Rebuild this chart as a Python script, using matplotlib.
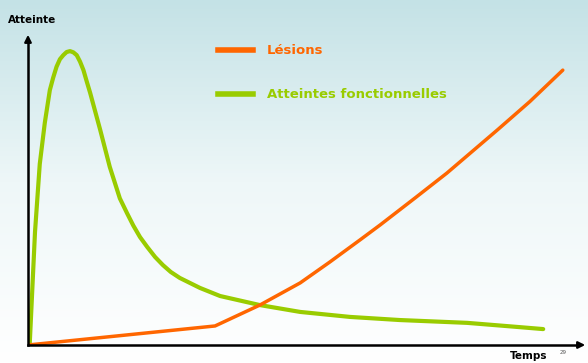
import numpy as np
import matplotlib.pyplot as plt
from matplotlib.colors import LinearSegmentedColormap

# données (temps / atteinte, unités arbitraires 0-100)
temps_fonct = [0.3, 1.25, 2.1, 3.0, 3.9, 4.5, 5.1, 5.7, 6.3, 6.9, 7.5, 8.1, 8.7,
               9.3, 9.9, 10.5, 11.1, 12.9, 14.6, 16.4, 17.7, 18.8, 20.0, 21.3,
               22.7, 24.1, 25.5, 27.1, 28.9, 30.7, 32.5, 34.3, 41.4, 48.6, 57.5,
               66.4, 78.4, 87.3, 92.0]
atteinte_fonct = [0, 36.2, 58.0, 71.2, 81.7, 85.7, 89.2, 91.6, 92.9, 93.9, 94.2,
                  93.8, 92.9, 90.8, 88.1, 84.4, 80.8, 68.9, 57.1, 47.0, 42.2,
                  38.3, 34.6, 31.4, 28.2, 25.6, 23.4, 21.5, 19.9, 18.3, 17.0,
                  15.7, 12.8, 10.6, 9.0, 8.0, 7.1, 5.8, 5.1]

temps_lesions = [0, 33.4, 41.4, 48.6, 53.9, 59.3, 62.9, 69.1, 74.8, 83.8, 89.6, 95.5]
atteinte_lesions = [0, 6.1, 12.8, 19.9, 26.6, 33.7, 38.5, 47.1, 55.1, 68.9, 78.0, 88.1]

orange = "#ff6600"
vert = "#99cc00"

fig = plt.figure(figsize=(5.88, 3.63), dpi=100)

# fond dégradé bleu clair -> blanc
bg = fig.add_axes([0, 0, 1, 1], zorder=0)
cmap = LinearSegmentedColormap.from_list("fond", ["#c4e2e6", "#eef7f8", "#ffffff"])
bg.imshow(np.linspace(0, 1, 256).reshape(-1, 1), aspect="auto", cmap=cmap,
          extent=[0, 1, 0, 1])
bg.axis("off")

W, H = 588, 363
ax = fig.add_axes([28 / W, 18 / H, 560 / W, 312 / H], zorder=1)
ax.patch.set_alpha(0)
ax.set_xlim(0, 100)
ax.set_ylim(0, 100)
ax.axis("off")

ax.plot(temps_fonct, atteinte_fonct, color=vert, lw=3, solid_capstyle="round",
        solid_joinstyle="round")
ax.plot(temps_lesions, atteinte_lesions, color=orange, lw=2.5,
        solid_capstyle="round", solid_joinstyle="round")

# axes avec flèches
fig.add_artist(plt.Line2D([28 / W, 28 / W], [18 / H, 1 - 40 / H], color="black",
                          lw=1.8))
fig.add_artist(plt.Line2D([28 / W, 578 / W], [18 / H, 18 / H], color="black",
                          lw=1.8))
ax.annotate("", xy=(28 / W, 1 - 32 / H), xytext=(28 / W, 1 - 45 / H),
            xycoords="figure fraction",
            arrowprops=dict(arrowstyle="-|>", color="black", lw=1.6,
                            mutation_scale=10))
ax.annotate("", xy=(588 / W, 18 / H), xytext=(575 / W, 18 / H),
            xycoords="figure fraction",
            arrowprops=dict(arrowstyle="-|>", color="black", lw=1.6,
                            mutation_scale=10))

# légende
fig.add_artist(plt.Line2D([218 / W, 253 / W], [1 - 50 / H] * 2, color=orange, lw=4))
fig.add_artist(plt.Line2D([218 / W, 253 / W], [1 - 94 / H] * 2, color=vert, lw=4))
fig.text(267 / W, 1 - 50 / H, "Lésions", color=orange, fontsize=9.5,
         fontweight="bold", va="center")
fig.text(267 / W, 1 - 94 / H, "Atteintes fonctionnelles", color=vert,
         fontsize=9.5, fontweight="bold", va="center")

fig.text(8 / W, 1 - 20 / H, "Atteinte", fontsize=7.5, fontweight="bold",
         va="center")
fig.text(510 / W, 1 - 356 / H, "Temps", fontsize=7.5, fontweight="bold",
         va="center")
fig.text(560 / W, 1 - 353 / H, "29", fontsize=4, color="#555555", va="center")

fig.savefig("out.png", dpi=100)
